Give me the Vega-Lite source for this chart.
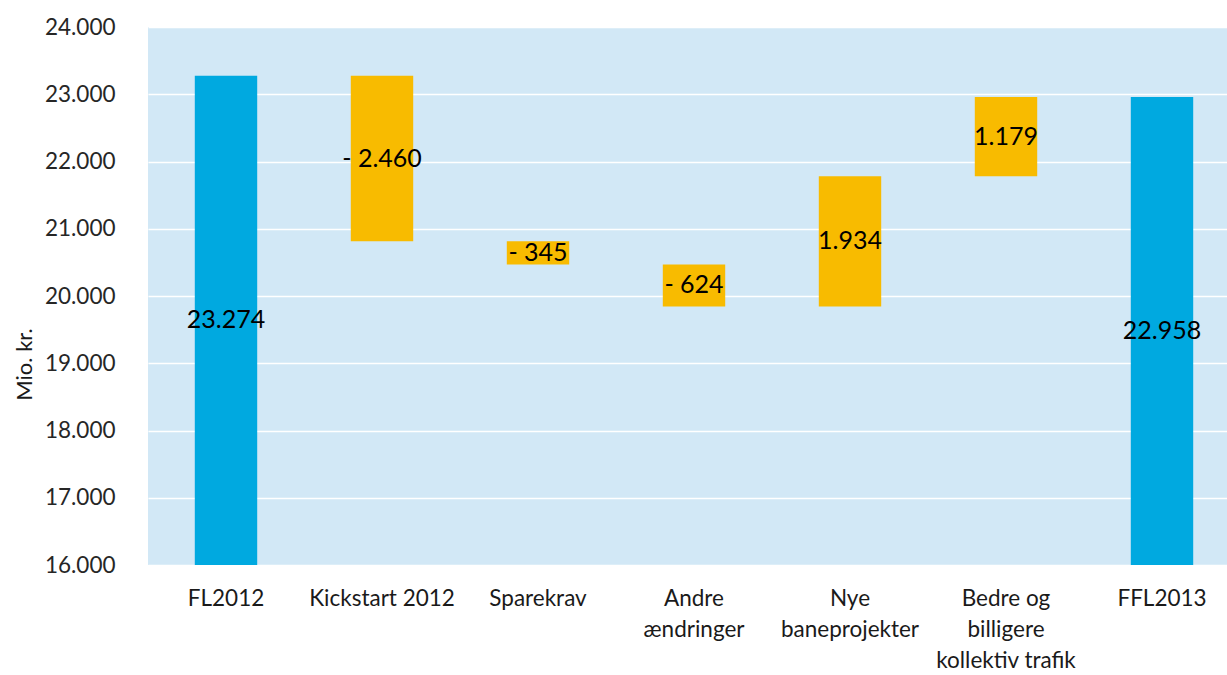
{
  "$schema": "https://vega.github.io/schema/vega-lite/v6.json",
  "width": 1092,
  "height": 538,
  "autosize": "none",
  "padding": {"left": 148, "top": 27, "right": 0, "bottom": 110},
  "background": "white",
  "config": {
    "view": {"fill": "#D2E8F6", "stroke": null},
    "font": "Lato"
  },
  "data": {
    "values": [
      {"cat": "FL2012", "start": 16000, "end": 23274, "kind": "total", "label": "23.274"},
      {"cat": "Kickstart 2012", "start": 23274, "end": 20814, "kind": "change", "label": "- 2.460"},
      {"cat": "Sparekrav", "start": 20814, "end": 20469, "kind": "change", "label": "- 345"},
      {"cat": "Andre|ændringer", "start": 20469, "end": 19845, "kind": "change", "label": "- 624"},
      {"cat": "Nye|baneprojekter", "start": 19845, "end": 21779, "kind": "change", "label": "1.934"},
      {"cat": "Bedre og|billigere|kollektiv trafik", "start": 21779, "end": 22958, "kind": "change", "label": "1.179"},
      {"cat": "FFL2013", "start": 16000, "end": 22958, "kind": "total", "label": "22.958"}
    ]
  },
  "transform": [{"calculate": "(datum.start + datum.end) / 2", "as": "mid"}],
  "encoding": {
    "x": {
      "field": "cat",
      "type": "nominal",
      "sort": null,
      "scale": {"paddingInner": 0.6, "paddingOuter": 0.3},
      "axis": {
        "title": null,
        "labelAngle": 0,
        "labelExpr": "split(datum.label, '|')",
        "labelFontSize": 22.5,
        "labelColor": "#1a1a1a",
        "labelLineHeight": 31,
        "labelPadding": 40,
        "labelBaseline": "alphabetic",
        "ticks": false,
        "domain": false
      }
    }
  },
  "layer": [
    {
      "mark": {"type": "bar"},
      "encoding": {
        "y": {
          "field": "start",
          "type": "quantitative",
          "scale": {"domain": [16000, 24000], "nice": false, "zero": false},
          "axis": {
            "values": [16000, 17000, 18000, 19000, 20000, 21000, 22000, 23000, 24000],
            "labelExpr": "replace(format(datum.value, ',d'), ',', '.')",
            "labelFontSize": 22.5,
            "labelColor": "#262626",
            "labelPadding": 33,
            "ticks": false,
            "domain": false,
            "gridColor": "white",
            "gridWidth": 1.5,
            "title": "Mio. kr.",
            "titleFontSize": 22,
            "titleFontWeight": "normal",
            "titleColor": "#1a1a1a",
            "titleAngle": -90,
            "titleX": -124,
            "titleY": 337,
            "titleAlign": "center",
            "titleBaseline": "middle"
          }
        },
        "y2": {"field": "end"},
        "color": {
          "field": "kind",
          "type": "nominal",
          "scale": {"domain": ["total", "change"], "range": ["#00A9E0", "#F8BB00"]},
          "legend": null
        }
      }
    },
    {
      "mark": {"type": "text", "fontSize": 25, "color": "#000000", "baseline": "middle", "align": "center"},
      "encoding": {
        "y": {"field": "mid", "type": "quantitative"},
        "text": {"field": "label"}
      }
    }
  ]
}
